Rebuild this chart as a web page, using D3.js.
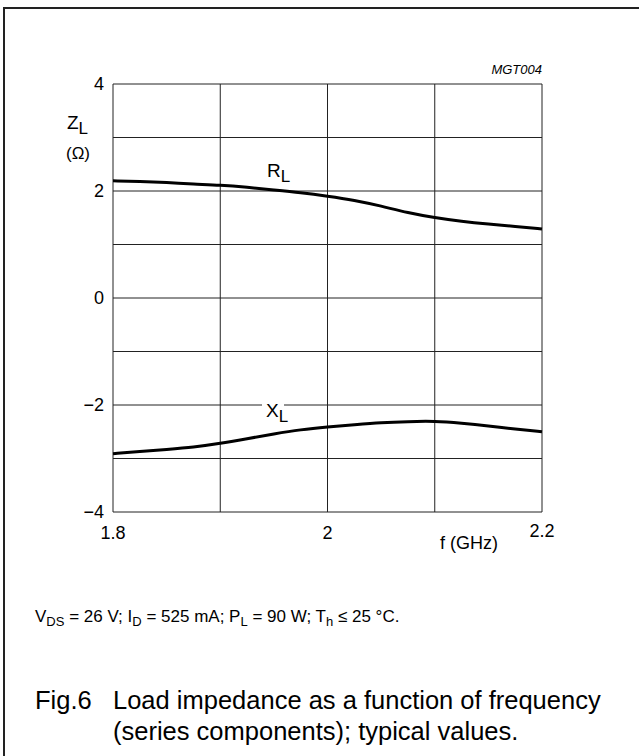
<!DOCTYPE html>
<html><head><meta charset="utf-8">
<script src="https://cdn.jsdelivr.net/npm/d3@7"></script>
<style>html,body{margin:0;padding:0;background:#fff;}svg{display:block;font-family:"Liberation Sans",Arial,sans-serif;}</style>
</head><body>
<svg id="c" width="639" height="756"></svg>
<script>
const freq = [1.8, 1.825, 1.85, 1.875, 1.9, 1.925, 1.95, 1.975, 2.0, 2.025, 2.05, 2.075, 2.1, 2.125, 2.15, 2.175, 2.2];
const RL = [2.19, 2.18, 2.16, 2.13, 2.11, 2.07, 2.02, 1.97, 1.905, 1.83, 1.72, 1.59, 1.50, 1.43, 1.38, 1.34, 1.29];
const XL = [-2.91, -2.87, -2.83, -2.79, -2.72, -2.63, -2.54, -2.46, -2.41, -2.37, -2.33, -2.31, -2.30, -2.34, -2.39, -2.45, -2.50];
const xTickLabels = [1.8, 2, 2.2];
const yTickLabels = [-4, -2, 0, 2, 4];
const xGrid = [1.8, 1.9, 2.0, 2.1, 2.2];
const yGrid = [-4, -3, -2, -1, 0, 1, 2, 3, 4];

const svg = d3.select("#c");
// outer frame
svg.append("rect").attr("x",4).attr("y",8).attr("width",660).attr("height",780)
  .attr("fill","none").attr("stroke","#222").attr("stroke-width",2);

const x = d3.scaleLinear().domain([1.8,2.2]).range([113,542]);
const y = d3.scaleLinear().domain([-4,4]).range([512,84]);

const g = svg.append("g");
g.selectAll("line.vg").data(xGrid).enter().append("line")
  .attr("x1",d=>x(d)).attr("x2",d=>x(d)).attr("y1",y(-4)).attr("y2",y(4))
  .attr("stroke","#222").attr("stroke-width",1);
g.selectAll("line.hg").data(yGrid).enter().append("line")
  .attr("x1",x(1.8)).attr("x2",x(2.2)).attr("y1",d=>y(d)).attr("y2",d=>y(d))
  .attr("stroke","#222").attr("stroke-width",1);

// tick labels
const fmtY = d => d < 0 ? "\u2212" + Math.abs(d) : String(d);
g.selectAll("text.yl").data(yTickLabels).enter().append("text")
  .attr("x",104).attr("y",d=>y(d)).attr("dy","0.36em").attr("text-anchor","end")
  .attr("font-size",18).text(fmtY);
g.selectAll("text.xl").data(xTickLabels).enter().append("text")
  .attr("x",d=>x(d)).attr("y",d=> d===2.2 ? 537 : 539).attr("text-anchor","middle")
  .attr("font-size",18).text(d=>String(d));

// axis titles
const zt = svg.append("text").attr("x",67).attr("y",129).attr("font-size",19);
zt.append("tspan").text("Z");
zt.append("tspan").attr("dy",5).attr("font-size",17).text("L");
svg.append("text").attr("x",66).attr("y",159).attr("font-size",17).text("(\u03A9)");
svg.append("text").attr("x",469).attr("y",549).attr("text-anchor","middle").attr("font-size",18).text("f (GHz)");
svg.append("text").attr("x",542).attr("y",74).attr("text-anchor","end").attr("font-size",13)
  .attr("font-style","italic").text("MGT004");

// curves
const line = d3.line().x((d,i)=>x(freq[i])).y(d=>y(d)).curve(d3.curveBasis);
svg.append("path").attr("d",line(RL)).attr("fill","none").attr("stroke","#000").attr("stroke-width",3);
svg.append("path").attr("d",line(XL)).attr("fill","none").attr("stroke","#000").attr("stroke-width",3);

// curve labels
svg.append("rect").attr("x",262).attr("y",y(-2)-3).attr("width",22).attr("height",6).attr("fill","#fff");
const rl = svg.append("text").attr("x",267).attr("y",177).attr("font-size",19);
rl.append("tspan").text("R"); rl.append("tspan").attr("dy",5).attr("font-size",17).text("L");
const xl = svg.append("text").attr("x",266).attr("y",417).attr("font-size",19);
xl.append("tspan").text("X"); xl.append("tspan").attr("dy",5).attr("font-size",17).text("L");

// conditions
const cond = svg.append("text").attr("x",35).attr("y",622).attr("font-size",17);
const parts = [["V",""],["DS","s"],[" = 26 V; I",""],["D","s"],[" = 525 mA; P",""],["L","s"],[" = 90 W; T",""],["h","s"],[" \u2264 25 \u00B0C.",""]];
let sub=false;
parts.forEach(p=>{
  const t = cond.append("tspan").text(p[0]);
  if(p[1]==="s"){ t.attr("font-size",13).attr("dy",sub?0:4); sub=true; }
  else { if(sub){ t.attr("dy",-4); } sub=false; }
});

// caption
svg.append("text").attr("x",35).attr("y",709).attr("font-size",25.5).text("Fig.6");
svg.append("text").attr("x",113).attr("y",709).attr("font-size",25.5).text("Load impedance as a function of frequency");
svg.append("text").attr("x",113).attr("y",740).attr("font-size",25.5).text("(series components); typical values.");
</script>
</body></html>
